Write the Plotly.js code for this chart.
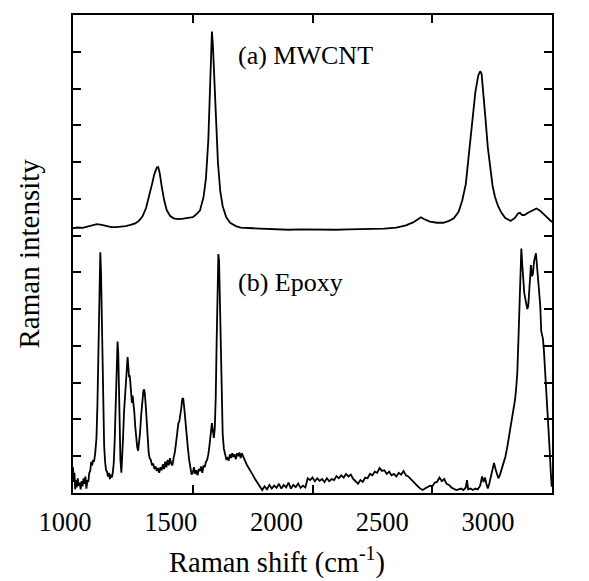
<!DOCTYPE html>
<html>
<head>
<meta charset="utf-8">
<script src="https://cdn.plot.ly/plotly-3.0.1.min.js"></script>
<style>html,body{margin:0;padding:0;background:#fff;}#chart{width:589px;height:581px;}</style>
</head>
<body>
<div id="chart"></div>
<script>
// Raman shift (cm-1) and intensity (arbitrary units, offset stacked)
const mwcntShift = [1000,1020,1040,1060,1080,1100,1120,1140,1160,1180,1200,1220,1240,1260,1275,1290,1305,1318,1330,1340,1350,1356,1362,1370,1380,1391,1405,1420,1440,1460,1480,1500,1515,1530,1545,1555,1565,1572,1577,1580,1584,1590,1597,1605,1615,1625,1640,1656,1680,1700,1750,1800,1850,1900,1950,2000,2050,2100,2150,2200,2250,2300,2350,2390,2420,2440,2453,2465,2490,2520,2546,2570,2590,2610,2625,2640,2655,2668,2680,2692,2700,2706,2714,2722,2732,2741,2752,2762,2775,2789,2805,2827,2845,2858,2866,2875,2885,2900,2915,2935,2950,2965,2980,3000];
const mwcntIntensity = [7.20,7.22,7.21,7.25,7.29,7.31,7.29,7.25,7.23,7.23,7.24,7.26,7.29,7.33,7.40,7.52,7.75,8.05,8.40,8.68,8.85,8.86,8.70,8.35,7.98,7.70,7.54,7.47,7.45,7.46,7.47,7.50,7.58,7.68,8.05,8.55,9.6,10.9,12.0,12.55,12.2,11.2,10.0,9.0,8.2,7.80,7.50,7.35,7.26,7.22,7.20,7.18,7.17,7.16,7.17,7.16,7.17,7.16,7.17,7.17,7.18,7.19,7.22,7.28,7.36,7.45,7.50,7.45,7.38,7.35,7.35,7.40,7.47,7.65,7.95,8.40,9.3,10.2,10.9,11.35,11.47,11.4,10.9,10.2,9.4,8.85,8.35,8.05,7.80,7.62,7.48,7.40,7.48,7.60,7.62,7.56,7.56,7.62,7.68,7.74,7.68,7.58,7.50,7.37];

const epoxyShift = [1000,1003,1006,1009,1012,1016,1020,1024,1028,1032,1036,1040,1044,1048,1052,1056,1060,1064,1068,1072,1076,1080,1084,1088,1093,1098,1102,1106,1109,1112,1114,1117,1120,1123,1126,1130,1134,1138,1142,1146,1150,1154,1158,1162,1166,1170,1174,1178,1182,1186,1189,1192,1195,1198,1202,1205,1209,1213,1217,1221,1225,1228,1231,1234,1237,1240,1243,1246,1249,1252,1256,1260,1264,1268,1272,1276,1280,1285,1290,1294,1297,1300,1304,1308,1312,1316,1320,1325,1330,1335,1340,1345,1350,1355,1360,1365,1370,1375,1380,1385,1390,1395,1400,1405,1410,1415,1420,1425,1430,1435,1440,1444,1448,1452,1456,1460,1464,1468,1472,1476,1480,1485,1490,1495,1500,1505,1510,1515,1520,1525,1530,1535,1540,1545,1550,1555,1560,1565,1570,1575,1580,1584,1588,1592,1596,1600,1604,1607,1610,1613,1617,1621,1625,1630,1635,1640,1645,1650,1655,1660,1665,1670,1675,1680,1685,1690,1695,1700,1705,1710,1715,1720,1725,1730,1740,1750,1760,1770,1780,1790,1800,1810,1820,1830,1840,1850,1860,1870,1880,1890,1900,1910,1920,1930,1940,1950,1960,1970,1980,1990,2000,2010,2020,2030,2040,2050,2060,2070,2080,2090,2100,2110,2120,2130,2140,2150,2160,2170,2180,2190,2200,2210,2220,2230,2240,2250,2260,2270,2280,2290,2300,2310,2320,2330,2340,2350,2360,2370,2380,2390,2400,2410,2420,2430,2440,2450,2460,2470,2480,2490,2500,2510,2520,2530,2540,2550,2560,2570,2580,2590,2600,2610,2620,2630,2640,2645,2650,2660,2670,2680,2690,2700,2708,2714,2720,2726,2732,2738,2745,2752,2758,2764,2770,2776,2782,2790,2798,2805,2812,2818,2825,2832,2840,2846,2851,2855,2860,2864,2868,2872,2876,2880,2884,2888,2892,2897,2901,2905,2909,2912,2916,2920,2925,2930,2933,2937,2942,2947,2951,2955,2958,2962,2966,2971,2976,2981,2985,2990,2995,2999];
const epoxyIntensity = [0.70,0.30,0.55,0.10,0.35,0.15,0.40,0.20,0.28,0.10,0.32,0.18,0.40,0.25,0.45,0.12,0.35,0.30,0.55,0.60,0.85,0.75,0.90,0.85,1.10,1.50,2.40,4.00,5.50,6.40,6.55,6.00,4.60,3.10,2.00,1.30,0.85,0.62,0.58,0.45,0.55,0.38,0.50,0.42,0.55,0.80,1.40,2.50,3.60,4.12,3.80,2.80,1.70,0.90,0.55,0.90,1.50,2.20,2.70,3.10,3.55,3.70,3.45,3.15,3.20,2.85,2.60,2.45,2.65,2.50,2.20,1.80,1.45,1.25,1.15,1.35,1.65,2.15,2.60,2.78,2.82,2.70,2.35,1.90,1.40,1.10,0.95,0.90,0.75,0.80,0.65,0.72,0.60,0.68,0.55,0.70,0.62,0.78,0.65,0.85,0.70,0.90,0.75,0.95,0.80,0.75,0.95,1.10,1.35,1.65,1.90,1.95,2.10,2.30,2.55,2.58,2.35,2.00,1.70,1.45,1.20,0.90,0.65,0.50,0.55,0.70,0.52,0.62,0.48,0.65,0.60,0.72,0.55,0.75,0.70,0.85,0.90,1.05,1.30,1.60,1.90,1.70,1.50,1.75,2.60,4.20,5.80,6.50,6.30,5.20,3.80,2.50,1.60,1.20,1.05,0.92,0.95,0.88,1.05,0.95,1.08,0.98,1.05,0.92,1.08,1.00,1.10,0.95,1.08,1.00,0.90,0.85,0.78,0.72,0.62,0.50,0.38,0.28,0.15,0.08,0.18,0.10,0.22,0.12,0.20,0.14,0.25,0.12,0.22,0.15,0.28,0.12,0.22,0.16,0.26,0.14,0.20,0.15,0.40,0.35,0.42,0.32,0.40,0.33,0.38,0.30,0.40,0.32,0.38,0.35,0.46,0.40,0.48,0.42,0.52,0.45,0.50,0.38,0.32,0.25,0.35,0.30,0.42,0.40,0.52,0.48,0.58,0.55,0.68,0.60,0.62,0.52,0.58,0.48,0.52,0.45,0.55,0.50,0.60,0.48,0.45,0.38,0.30,0.25,0.18,0.12,0.08,0.12,0.15,0.20,0.18,0.28,0.30,0.42,0.32,0.38,0.25,0.22,0.15,0.12,0.08,0.10,0.12,0.08,0.15,0.35,0.10,0.12,0.08,0.12,0.10,0.20,0.45,0.30,0.42,0.25,0.12,0.25,0.45,0.65,0.82,0.65,0.50,0.40,0.48,0.65,0.80,0.98,1.20,1.45,1.80,2.00,2.35,2.55,2.90,3.25,4.20,5.05,6.00,6.65,6.20,5.60,5.45,5.30,5.20,5.00,5.10,5.60,6.10,6.20,5.90,5.95,6.30,6.45,6.52,6.20,5.80,5.50,5.10,4.40,4.30,4.20,3.90,3.40,2.80,2.30,1.90,1.20,0.55,0.17];

const xTickVals = [1000,1500,2000,2500,3000];
const xTickText = ["1000","1500","2000","2500","3000"];
const labelA = "(a) MWCNT";
const labelB = "(b) Epoxy";
const xTitle = "Raman shift (cm<sup>-1</sup>)";
const yTitle = "Raman intensity";

const FONT = "'Liberation Serif', 'Times New Roman', serif";
const lineStyle = {color: "#000", width: 1.8};

const traces = [
  {x: mwcntShift, y: mwcntIntensity, type: "scatter", mode: "lines", line: lineStyle, hoverinfo: "skip", showlegend: false},
  {x: epoxyShift, y: epoxyIntensity, type: "scatter", mode: "lines", line: lineStyle, hoverinfo: "skip", showlegend: false},
  {x: [xTickVals[0]], y: [0], xaxis: "x2", yaxis: "y", type: "scatter", mode: "markers", marker: {opacity: 0}, hoverinfo: "skip", showlegend: false}
];

const layout = {
  width: 589, height: 581,
  margin: {l: 50, r: 37, t: 15, b: 88},
  paper_bgcolor: "#fff", plot_bgcolor: "rgba(0,0,0,0)",
  font: {family: FONT, color: "#000", size: 26},
  showlegend: false,
  xaxis: {
    domain: [23/502, 1],
    range: [1000, 3000],
    tickvals: xTickVals,
    showticklabels: false,
    ticks: "inside", ticklen: 8, tickwidth: 2, tickcolor: "#000",
    showline: true, linewidth: 2, linecolor: "#000", mirror: "ticks",
    showgrid: false, zeroline: false, fixedrange: true
  },
  xaxis2: {
    domain: [15/502, 438/502],
    anchor: "y",
    range: [1000, 3000],
    tickvals: xTickVals, ticktext: xTickText,
    ticks: "", showline: false, showgrid: false, zeroline: false,
    tickfont: {family: FONT, size: 26.5, color: "#000"},
    ticklabelstandoff: 10,
    fixedrange: true
  },
  yaxis: {
    range: [0, 13],
    dtick: 1, tick0: 0,
    showticklabels: false,
    ticks: "inside", ticklen: 8, tickwidth: 2, tickcolor: "#000",
    showline: true, linewidth: 2, linecolor: "#000", mirror: "ticks",
    showgrid: false, zeroline: false, fixedrange: true
  },
  annotations: [
    {text: labelA, xref: "paper", yref: "paper", x: 186/502, y: (493-56)/478, xanchor: "left", yanchor: "middle", showarrow: false, font: {family: FONT, size: 26, color: "#000"}},
    {text: labelB, xref: "paper", yref: "paper", x: 186/502, y: (493-282.5)/478, xanchor: "left", yanchor: "middle", showarrow: false, font: {family: FONT, size: 26, color: "#000"}},
    {text: xTitle, xref: "paper", yref: "paper", x: 227/502, y: (493-560)/478, xanchor: "center", yanchor: "middle", showarrow: false, font: {family: FONT, size: 28.5, color: "#000"}},
    {text: yTitle, xref: "paper", yref: "paper", x: -22/502, y: (493-253.5)/478, xanchor: "center", yanchor: "middle", textangle: -90, showarrow: false, font: {family: FONT, size: 29, color: "#000"}}
  ]
};

Plotly.newPlot("chart", traces, layout, {staticPlot: true, displayModeBar: false});
</script>
</body>
</html>
